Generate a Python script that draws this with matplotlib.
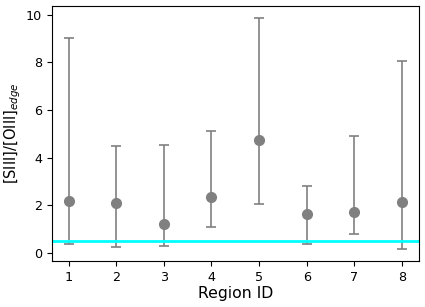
import matplotlib
matplotlib.use("Agg")
import matplotlib.pyplot as plt
import numpy as np

region = [1, 2, 3, 4, 5, 6, 7, 8]
ratio = [2.17, 2.09, 1.21, 2.35, 4.73, 1.65, 1.74, 2.13]
upper = [9.03, 4.48, 4.55, 5.14, 9.87, 2.83, 4.93, 8.07]
lower = [0.38, 0.25, 0.31, 1.09, 2.07, 0.39, 0.79, 0.16]
threshold = 0.5

r = np.array(ratio)
yerr = [r - np.array(lower), np.array(upper) - r]

fig = plt.figure(figsize=(4.25, 3.07), dpi=100)
ax = fig.add_axes([0.122, 0.15, 0.863, 0.83])
ax.errorbar(region, ratio, yerr=yerr, fmt='o', color='grey', ecolor='grey',
            markersize=7, capsize=3.6, elinewidth=1.2, capthick=1.2)
ax.axhline(threshold, color='cyan', lw=2)
ax.set_xticks(region)
ax.set_xlabel('Region ID', fontsize=11.3, labelpad=1.5)
ax.set_ylabel(r'[SIII]/[OIII]$_{edge}$', fontsize=10.5)
ax.yaxis.set_label_coords(-0.08, 0.5)
ax.tick_params(labelsize=9.2)
fig.savefig('out.png', dpi=100)
